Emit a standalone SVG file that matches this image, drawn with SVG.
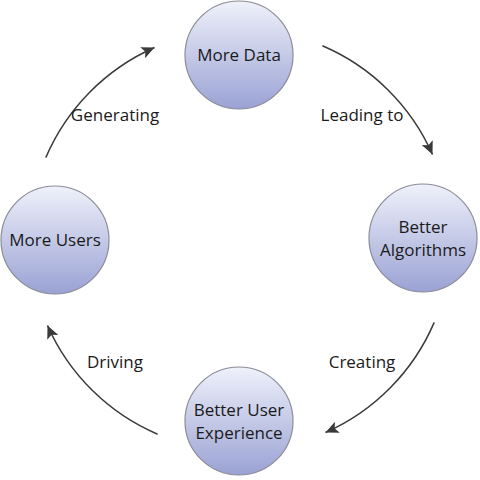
<svg xmlns="http://www.w3.org/2000/svg" width="480" height="480" viewBox="0 0 480 480">
<style>
.node{fill:url(#g);stroke:#8c8c98;stroke-width:1.2}
.t{font-family:"Open Sans","Liberation Sans",sans-serif;font-size:17px;fill:#1a1a1a;text-anchor:middle}
.c{fill:none;stroke:#3a3a3a;stroke-width:1.5;marker-end:url(#ah)}
</style>
<defs>
<linearGradient id="g" x1="0" y1="0" x2="0" y2="1">
<stop offset="0" stop-color="#eff1fa"/>
<stop offset="1" stop-color="#9aa2d4"/>
</linearGradient>
<marker id="ah" markerUnits="userSpaceOnUse" markerWidth="14" markerHeight="12" refX="13" refY="6" orient="auto">
<path d="M0,0 L13,6 L0,12 L3,6 Z" fill="#3a3a3a"/>
</marker>
</defs>
<rect width="480" height="480" fill="#fff"/>
<g id="connectors">
<path class="c" d="M322.4,45.8 A211,211 0 0 1 432.5,154.5"/>
<path class="c" d="M434.2,322.4 A211,211 0 0 1 325.5,432.5"/>
<path class="c" d="M157.6,434.2 A211,211 0 0 1 47.5,325.5"/>
<path class="c" d="M45.8,157.6 A211,211 0 0 1 154.5,47.5"/>
<text class="t" x="362" y="121">Leading to</text>
<text class="t" x="362" y="368">Creating</text>
<text class="t" x="115" y="368">Driving</text>
<text class="t" x="115" y="121">Generating</text>
</g>
<g id="more-data">
<circle class="node" cx="239" cy="55" r="54"/>
<text class="t" x="239" y="61">More Data</text>
</g>
<g id="better-algorithms">
<circle class="node" cx="423" cy="238" r="54"/>
<text class="t" x="423" y="233">Better</text>
<text class="t" x="423" y="256">Algorithms</text>
</g>
<g id="better-user-experience">
<circle class="node" cx="239" cy="421" r="54"/>
<text class="t" x="239" y="416">Better User</text>
<text class="t" x="239" y="439">Experience</text>
</g>
<g id="more-users">
<circle class="node" cx="55" cy="240" r="54"/>
<text class="t" x="55" y="246">More Users</text>
</g>
</svg>
